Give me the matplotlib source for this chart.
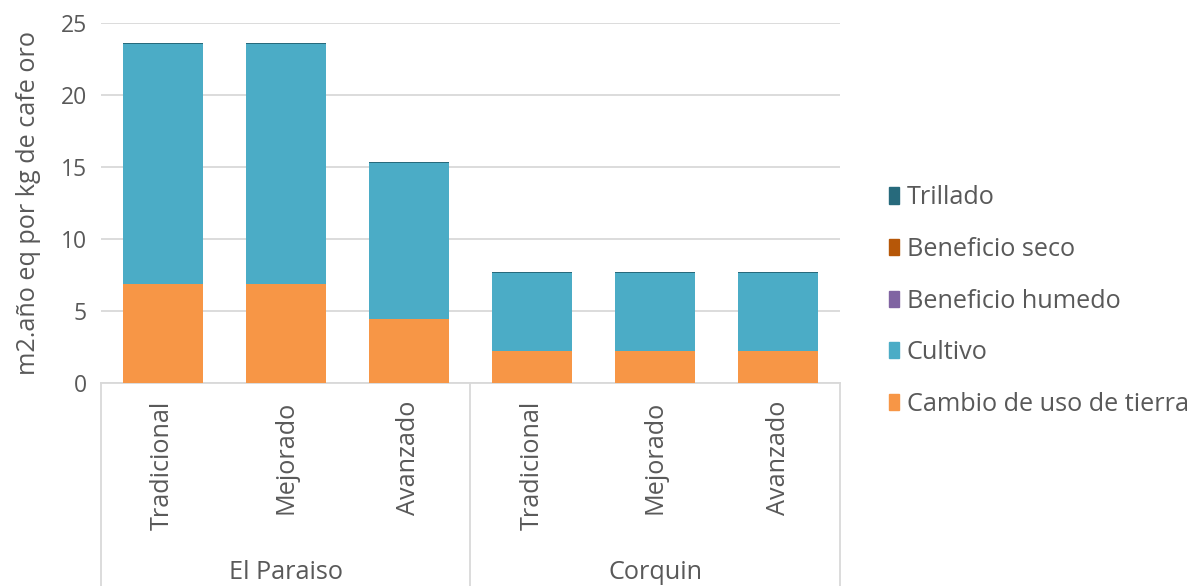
import numpy as np
import matplotlib
matplotlib.use("Agg")
import matplotlib.pyplot as plt
from matplotlib.patches import Patch

plt.rcParams['font.family'] = ['Open Sans', 'DejaVu Sans']

groups = ["El Paraiso", "Corquin"]
systems = ["Tradicional", "Mejorado", "Avanzado"]
labels = ["Cambio de uso de tierra", "Cultivo", "Beneficio humedo", "Beneficio seco", "Trillado"]
colors = ["#F79646", "#4BACC6", "#8064A2", "#B65708", "#276A7C"]

cambio = [6.9, 6.9, 4.45, 2.2, 2.2, 2.2]
cultivo = [16.65, 16.65, 10.85, 5.45, 5.45, 5.45]
humedo = [0.005, 0.005, 0.005, 0.005, 0.005, 0.005]
seco = [0.005, 0.005, 0.005, 0.005, 0.005, 0.005]
trillado = [0.06, 0.06, 0.05, 0.06, 0.06, 0.05]
series = [cambio, cultivo, humedo, seco, trillado]

txt = "#595959"
grid = "#D9D9D9"
fs = 18.2

fig = plt.figure(figsize=(11.93, 5.86), dpi=100)
ax = fig.add_axes([101/1193, (586-383)/586, 739/1193, 360/586])

x = np.arange(6)
bottom = np.zeros(6)
for vals, c in zip(series, colors):
    ax.bar(x, vals, 0.65, bottom=bottom, color=c, zorder=3)
    bottom += np.array(vals)

ax.set_xlim(-0.5, 5.5)
ax.set_ylim(0, 25)
ax.set_yticks([0, 5, 10, 15, 20, 25])
ax.yaxis.grid(True, color=grid, lw=1.3, zorder=0)
ax.tick_params(axis='y', length=0, labelsize=16.5, labelcolor=txt, pad=10)
ax.set_xticks([])
for s in ["left", "right", "top"]:
    ax.spines[s].set_visible(False)
ax.spines["bottom"].set_color(grid)
ax.spines["bottom"].set_linewidth(1.3)
ax.set_ylabel("m2.año eq por kg de cafe oro", fontsize=fs, color=txt, labelpad=14)

# category axis (two levels)
tr = ax.get_xaxis_transform()
for xv in [-0.5, 2.5, 5.5]:
    ax.plot([xv, xv], [0, -0.6], color=grid, lw=1.3, transform=tr, clip_on=False)
for i in range(6):
    ax.text(i, -0.05, systems[i % 3], rotation=90, ha='center', va='top',
            fontsize=fs, color=txt, transform=tr)
for j, g in enumerate(groups):
    ax.text(3*j + 1, -0.527, g, ha='center', va='center', fontsize=fs,
            color=txt, transform=tr)

handles = [Patch(color=c, label=l) for c, l in zip(colors, labels)][::-1]
fig.legend(handles=handles, loc='center left', bbox_to_anchor=(879/1193, 1 - 301/586),
           frameon=False, fontsize=fs, labelcolor=txt, handlelength=0.4,
           handleheight=0.6, handletextpad=0.3, labelspacing=1.05,
           borderaxespad=0)

fig.savefig("out.png", dpi=100)
